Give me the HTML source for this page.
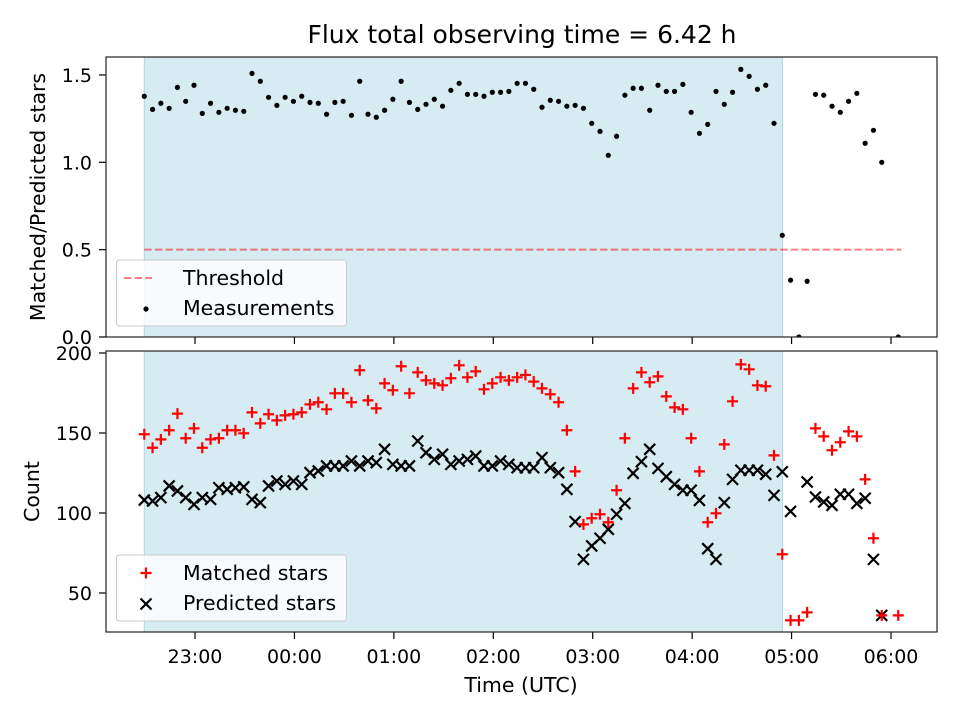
<!DOCTYPE html>
<html><head><meta charset="utf-8">
<style>
html,body{margin:0;padding:0;background:#fff;}
svg{display:block;font-family:"DejaVu Sans","Liberation Sans",sans-serif;}
</style></head>
<body>
<svg id="chart" width="960" height="720" viewBox="0 0 960 720" xmlns="http://www.w3.org/2000/svg">
<rect width="960" height="720" fill="#fff"/>
<text x="522" y="43" font-size="25" text-anchor="middle">Flux total observing time = 6.42 h</text>
<g id="topPanel"></g>
<g id="botPanel"></g>
</svg>
<script>
const startMin = 29.4;
const stepMin = 5;
const shadeStartMin = 29.4;
const shadeEndMin = 414.5;
const threshold = 0.5;
const tickLabels = ["23:00","00:00","01:00","02:00","03:00","04:00","05:00","06:00"];
const tickMins = [60,120,180,240,300,360,420,480];
const ratioTicks = [0,0.5,1.0,1.5];
const countTicks = [50,100,150,200];
const ratio = [1.378,1.303,1.338,1.309,1.429,1.349,1.441,1.280,1.338,1.286,1.309,1.298,1.292,1.509,1.464,1.372,1.326,1.372,1.349,1.378,1.343,1.338,1.275,1.343,1.349,1.269,1.464,1.275,1.258,1.298,1.361,1.464,1.343,1.303,1.332,1.361,1.321,1.412,1.452,1.389,1.389,1.378,1.401,1.401,1.406,1.452,
1.452,1.418,1.315,1.355,1.349,1.321,1.326,1.309,1.223,1.177,1.040,1.149,1.384,1.424,1.424,1.298,1.441,1.406,1.406,1.446,1.286,1.166,1.217,1.406,1.332,1.401,1.532,1.492,1.418,1.441,1.223,0.582,0.325,0,0.319,1.389,1.384,1.321,1.286,1.349,1.395,1.109,1.183,1.000,null,0];
const matched = [149.2,140.8,146.0,151.7,162.1,146.7,152.9,140.8,146.0,146.7,151.7,151.7,149.8,162.9,156.0,161.7,157.9,161.0,161.7,162.9,167.9,169.2,164.8,174.8,174.8,169.2,189.2,170.4,165.4,181.0,176.7,191.7,174.8,187.9,182.9,181.0,179.8,184.2,192.3,184.8,188.5,177.3,181.0,184.8,182.9,184.8,
186.3,182.1,177.9,174.2,169.2,151.7,126.0,92.9,96.7,99.2,94.2,114.2,146.7,177.9,187.9,181.7,185.4,172.9,166.0,164.8,146.7,126.0,94.2,99.8,142.9,169.8,192.9,189.8,179.8,179.2,136.0,74.2,32.9,32.9,37.9,152.9,147.9,139.2,144.2,151.0,147.9,121.0,84.2,36.0,null,36.0];
const predicted = [108.1,107.5,109.6,116.9,113.8,109.6,105.4,109.6,108.5,115.8,114.8,115.8,116.3,108.5,106.5,116.9,120.0,117.9,120.0,117.9,125.2,126.3,129.4,129.4,129.4,132.5,129.4,132.5,131.5,139.8,130.4,129.4,129.4,145.0,137.7,133.5,136.7,130.4,132.5,133.5,135.6,129.4,129.4,132.5,130.4,128.3,
128.3,128.3,134.6,128.3,125.2,114.8,94.6,71.0,79.4,84.2,89.8,99.2,106.0,124.8,132.1,139.8,127.9,122.7,117.9,114.2,114.2,107.9,77.7,71.0,106.5,121.0,126.7,126.7,126.7,124.2,111.0,125.8,101.0,null,119.4,110.0,106.9,104.8,111.7,111.7,106.0,109.2,71.0,36.0,null,null];

const NS="http://www.w3.org/2000/svg";
const L=106,R=937;
const FS=19;
const LFS=20.5;
const X=m=>195+(m-60)*(891-195)/420;
const Yt=v=>337-v*174.7;
const Yb=v=>353+(200-v)*1.6;
function mk(tag,attrs,parent){const e=document.createElementNS(NS,tag);for(const k in attrs)e.setAttribute(k,attrs[k]);parent.appendChild(e);return e;}

function panel(g,t,b,Y,ticks,fmt,showX,ylabel){
  const sh=mk('rect',{x:X(shadeStartMin),y:t,width:X(shadeEndMin)-X(shadeStartMin),height:b-t,fill:'#add8e6','fill-opacity':0.5,stroke:'#add8e6','stroke-width':1},g);
  
  
  ticks.forEach(v=>{
    const y=Y(v);
    mk('line',{x1:L-7,x2:L,y1:y,y2:y,stroke:'#000','stroke-width':1.2},g);
    const tx=mk('text',{x:L-14,y:y+7,'font-size':FS,'text-anchor':'end'},g);
    tx.textContent=fmt(v);
    
    
  });
  tickMins.forEach((m,i)=>{
    const x=X(m);
    mk('line',{x1:x,x2:x,y1:b,y2:b+7,stroke:'#000','stroke-width':1.2},g);
    if(showX){const tx=mk('text',{x:x,y:b+31,'font-size':FS,'text-anchor':'middle'},g);tx.textContent=tickLabels[i];
      
      }
  });
  const yl=mk('text',{x:0,y:0,'font-size':20.5,'text-anchor':'middle',transform:`translate(${ylabel[1]},${(t+b)/2}) rotate(-90)`},g);
  yl.textContent=ylabel[0];
  
  
}
const gTop=document.getElementById('topPanel'),gBot=document.getElementById('botPanel');
panel(gTop,57,337,Yt,ratioTicks,v=>v.toFixed(1),false,['Matched/Predicted stars',45]);
panel(gBot,351,632,Yb,countTicks,v=>String(v),true,['Count',39]);

const th=mk('line',{x1:X(shadeStartMin),x2:X(startMin+stepMin*(ratio.length-1))+3,y1:Yt(threshold),y2:Yt(threshold),stroke:'#ff0000','stroke-opacity':0.5,'stroke-width':2,'stroke-dasharray':'7.4,3.2'},gTop);



const clipT=mk('clipPath',{id:'ct'},gTop);mk('rect',{x:L,y:57,width:R-L,height:280},clipT);
const clipB=mk('clipPath',{id:'cb'},gBot);mk('rect',{x:L,y:351,width:R-L,height:281},clipB);
const pt=mk('g',{'clip-path':'url(#ct)'},gTop), pb=mk('g',{'clip-path':'url(#cb)'},gBot);
ratio.forEach((v,i)=>{ if(v===null)return;
  const c=mk('circle',{cx:X(startMin+stepMin*i),cy:Yt(v),r:2.6,fill:'#000'},pt);
  
  
});
predicted.forEach((v,i)=>{ if(v===null)return;
  const x=X(startMin+stepMin*i),y=Yb(v),s=5.5;
  const p=mk('path',{d:`M${x-s},${y-s}L${x+s},${y+s}M${x-s},${y+s}L${x+s},${y-s}`,stroke:'#000','stroke-width':2.2},pb);
  
  
});
matched.forEach((v,i)=>{ if(v===null)return;
  const x=X(startMin+stepMin*i),y=Yb(v),s=5.5;
  const p=mk('path',{d:`M${x-s},${y}L${x+s},${y}M${x},${y-s}L${x},${y+s}`,stroke:'#ff0000','stroke-width':2.2},pb);
  
  
});
mk('rect',{x:L,y:57,width:R-L,height:280,fill:'none',stroke:'#222','stroke-width':1.2},gTop);
mk('rect',{x:L,y:351,width:R-L,height:281,fill:'none',stroke:'#222','stroke-width':1.2},gBot);
const xt=mk('text',{x:521,y:692,'font-size':20.5,'text-anchor':'middle'},gBot);xt.textContent='Time (UTC)';



function legend(g,y0,items){
  const lg=mk('g',{},g);
  
  
  mk('rect',{x:116.5,y:y0,width:230,height:66,rx:3,fill:'#fff','fill-opacity':0.8,stroke:'#ccc','stroke-width':1},lg);
  items.forEach((it,k)=>{
    const y=y0+18+k*30;
    const e=mk('g',{},lg);
    
    
    it.draw(e,146,y);
    const t=mk('text',{x:183,y:y+7,'font-size':LFS},e);t.textContent=it.label;
  });
}
legend(gTop,260,[
 {label:'Threshold',draw:(e,x,y)=>mk('line',{x1:x-22,x2:x+6,y1:y,y2:y,stroke:'#ff0000','stroke-opacity':0.5,'stroke-width':2,'stroke-dasharray':'7.4,3.2'},e)},
 {label:'Measurements',draw:(e,x,y)=>mk('circle',{cx:x,cy:y+1,r:2.6,fill:'#000'},e)}
]);
legend(gBot,555,[
 {label:'Matched stars',draw:(e,x,y)=>mk('path',{d:`M${x-5.5},${y}L${x+5.5},${y}M${x},${y-5.5}L${x},${y+5.5}`,stroke:'#f00','stroke-width':2.2},e)},
 {label:'Predicted stars',draw:(e,x,y)=>mk('path',{d:`M${x-5.5},${y-4.5}L${x+5.5},${y+6.5}M${x-5.5},${y+6.5}L${x+5.5},${y-4.5}`,stroke:'#000','stroke-width':2.2},e)}
]);
</script>
</body></html>
